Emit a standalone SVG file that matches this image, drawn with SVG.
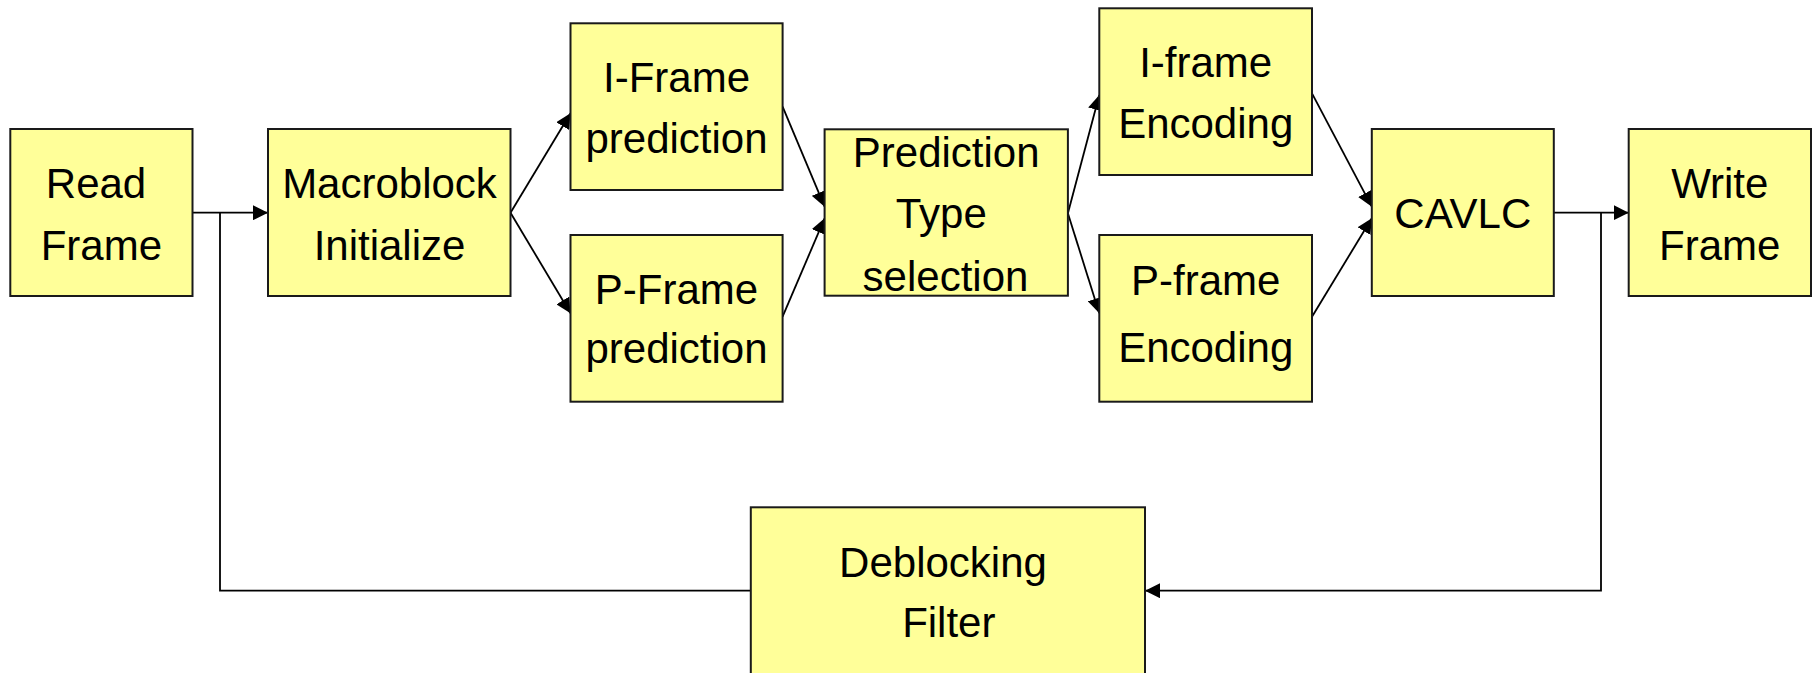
<svg xmlns="http://www.w3.org/2000/svg" width="1815" height="673" viewBox="0 0 1815 673">
<defs>
<style>
.box{fill:#FFFF99;stroke:#1a1a1a;stroke-width:2}
.t{font-family:"Liberation Sans",Arial,sans-serif;font-size:42px;fill:#000;text-anchor:middle}
.c{fill:none;stroke:#000;stroke-width:1.8}
</style>
<marker id="ah" markerUnits="userSpaceOnUse" markerWidth="15" markerHeight="15" refX="15" refY="7.5" orient="auto">
<path d="M0,0 L15,7.5 L0,15 z" fill="#000"/>
</marker>
</defs>
<rect width="1815" height="673" fill="#fff"/>
<g id="connectors">
<path class="c" d="M192,212.7 H268" marker-end="url(#ah)"/>
<path class="c" d="M510.5,212.7 L570.5,113.3" marker-end="url(#ah)"/>
<path class="c" d="M510.5,212.7 L570.5,313.3" marker-end="url(#ah)"/>
<path class="c" d="M782.6,106.7 L824.6,206.7" marker-end="url(#ah)"/>
<path class="c" d="M782.6,316.7 L824.6,218.3" marker-end="url(#ah)"/>
<path class="c" d="M1067.9,213.3 L1099.3,95" marker-end="url(#ah)"/>
<path class="c" d="M1067.9,213.3 L1099.3,313.3" marker-end="url(#ah)"/>
<path class="c" d="M1312,93.3 L1371.8,206.7" marker-end="url(#ah)"/>
<path class="c" d="M1312,316.7 L1371.8,218.3" marker-end="url(#ah)"/>
<path class="c" d="M1553.8,212.7 H1628.7" marker-end="url(#ah)"/>
<path class="c" d="M1601,212.7 V590.7 H1145" marker-end="url(#ah)"/>
<path class="c" d="M750.8,590.7 H220 V212.7"/>
</g>
<g id="read-frame">
<rect class="box" x="10.3" y="129" width="182.2" height="167"/>
<text class="t" x="96" y="197.7">Read</text>
<text class="t" x="101.4" y="260">Frame</text>
</g>
<g id="macroblock-initialize">
<rect class="box" x="268" y="129" width="242.5" height="167"/>
<text class="t" x="389.5" y="197.7">Macroblock</text>
<text class="t" x="389.5" y="260">Initialize</text>
</g>
<g id="i-frame-prediction">
<rect class="box" x="570.5" y="23.3" width="212.1" height="166.7"/>
<text class="t" x="676.5" y="91.7">I-Frame</text>
<text class="t" x="676.5" y="153.3">prediction</text>
</g>
<g id="p-frame-prediction">
<rect class="box" x="570.5" y="235" width="212.1" height="166.7"/>
<text class="t" x="676.5" y="303.5">P-Frame</text>
<text class="t" x="676.5" y="363.3">prediction</text>
</g>
<g id="prediction-type-selection">
<rect class="box" x="824.6" y="129.3" width="243.3" height="166.4"/>
<text class="t" x="946.2" y="166.7">Prediction</text>
<text class="t" x="941.3" y="228.3">Type</text>
<text class="t" x="945.5" y="290.7">selection</text>
</g>
<g id="i-frame-encoding">
<rect class="box" x="1099.3" y="8.3" width="212.7" height="166.7"/>
<text class="t" x="1205.7" y="76.7">I-frame</text>
<text class="t" x="1205.7" y="138.3">Encoding</text>
</g>
<g id="p-frame-encoding">
<rect class="box" x="1099.3" y="235" width="212.7" height="166.7"/>
<text class="t" x="1205.7" y="295">P-frame</text>
<text class="t" x="1205.7" y="361.7">Encoding</text>
</g>
<g id="cavlc">
<rect class="box" x="1371.8" y="129" width="182" height="167"/>
<text class="t" x="1462.8" y="228.3">CAVLC</text>
</g>
<g id="write-frame">
<rect class="box" x="1628.7" y="129" width="182.3" height="167"/>
<text class="t" x="1719.8" y="197.7">Write</text>
<text class="t" x="1719.8" y="260">Frame</text>
</g>
<g id="deblocking-filter">
<rect class="box" x="750.8" y="507.3" width="394.2" height="180"/>
<text class="t" x="943" y="577">Deblocking</text>
<text class="t" x="948.8" y="637">Filter</text>
</g>
</svg>
